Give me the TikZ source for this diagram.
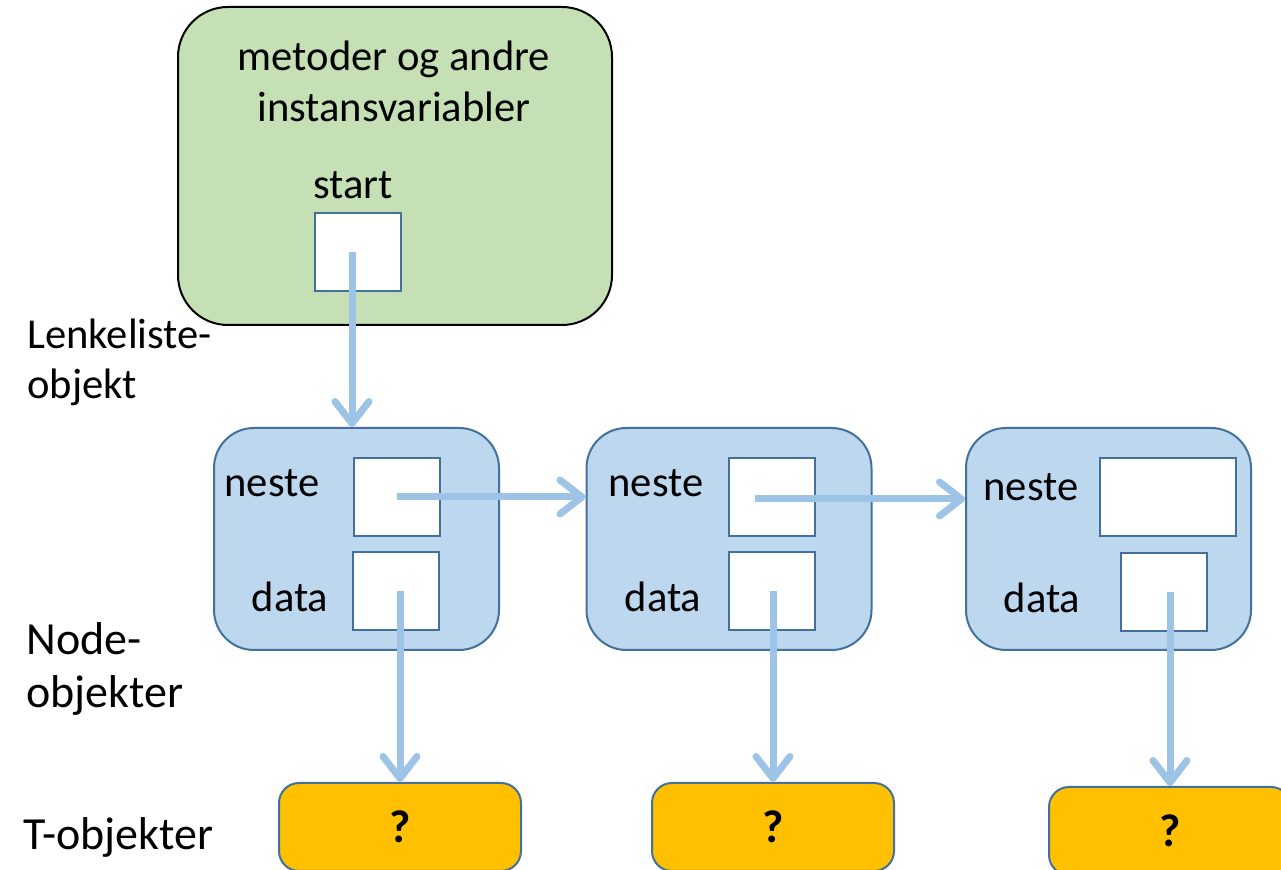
\documentclass[tikz,border=0pt]{standalone}
\usepackage{fontspec}
\setmainfont{Carlito}
\usetikzlibrary{arrows.meta}

\definecolor{listgreen}{HTML}{C5E0B4}
\definecolor{nodeblue}{HTML}{BDD7EE}
\definecolor{edgeblue}{HTML}{41719C}
\definecolor{arrowblue}{HTML}{9DC3E6}
\definecolor{tgold}{HTML}{FFC000}

\tikzset{
  listobj/.style={draw=black, line width=1pt, fill=listgreen, rounded corners=25pt,
    minimum width=217pt, minimum height=159pt},
  nodeobj/.style={draw=edgeblue, line width=1pt, fill=nodeblue, rounded corners=20pt,
    minimum width=142.5pt, minimum height=111pt},
  cell/.style={draw=edgeblue, line width=1pt, fill=white, minimum width=43pt, minimum height=39pt},
  tobj/.style={draw=edgeblue, line width=1pt, fill=tgold, rounded corners=10pt,
    minimum width=121pt, minimum height=44pt, font=\fontsize{23}{28}\selectfont\bfseries},
  lbl/.style={inner sep=0pt, anchor=base},
  sidelbl/.style={inner sep=0pt, anchor=base west},
  bigside/.style={sidelbl, font=\fontsize{23}{28}\selectfont},
  ref/.style={draw=arrowblue, line width=3.5pt, -{Straight Barb[length=11pt, width=17pt, round]}},
}

\begin{document}
\begin{tikzpicture}[x=0.5pt, y=-0.5pt, font=\fontsize{21.3}{26}\selectfont]
  \useasboundingbox (0,0) rectangle (1281,870);

  % lenkeliste-objektet
  \node[listobj] (liste) at (395,166) {};
  \node[lbl] (ltxt1) at (394,71) {metoder og andre};
  \node[lbl] (ltxt2) at (394,122) {instansvariabler};
  \node[lbl] (starttxt) at (353,199) {start};
  \node[cell] (startcell) at (358,252) {};

  % node-objektene
  \node[nodeobj] (n1) at (356.5,539) {};
  \node[nodeobj] (n2) at (729,539) {};
  \node[nodeobj] (n3) at (1108.5,539) {};
  \node[cell] (n1neste) at (397,497) {};
  \node[cell] (n1data) at (396,591) {};
  \node[cell] (n2neste) at (772,497) {};
  \node[cell] (n2data) at (772,591) {};
  \node[cell, minimum width=68pt] (n3neste) at (1168,497) {};
  \node[cell] (n3data) at (1164,592) {};
  \node[lbl] (n1nt) at (272,497) {neste};
  \node[lbl] (n1dt) at (290,612) {data};
  \node[lbl] (n2nt) at (656,497) {neste};
  \node[lbl] (n2dt) at (663,612) {data};
  \node[lbl] (n3nt) at (1031,501) {neste};
  \node[lbl] (n3dt) at (1042,613) {data};

  % T-objektene
  \node[tobj] (t1) at (400,827) {?};
  \node[tobj] (t2) at (773,827) {?};
  \node[tobj] (t3) at (1170,831) {?};

  % tekst til venstre
  \node[sidelbl] (lltxt1) at (27,349) {Lenkeliste-};
  \node[sidelbl] (lltxt2) at (27,399) {objekt};
  \node[bigside] (ntxt1) at (26,655) {Node-};
  \node[bigside] (ntxt2) at (26,708) {objekter};
  \node[bigside] (ttxt) at (23,850) {T-objekter};

  % pekere
  \coordinate (sp) at (352,252);
  \coordinate (p2) at (755,499);
  \draw[ref] (sp) -- (sp |- n1.north);
  \draw[ref] (n1neste.center) -- (n1neste.center -| n2.west);
  \draw[ref] (p2) -- (p2 -| n3.west);
  \draw[ref] (t1.north |- n1data.center) -- (t1.north);
  \draw[ref] (t2.north |- n2data.center) -- (t2.north);
  \draw[ref] (t3.north |- n3data.center) -- (t3.north);
\end{tikzpicture}
\end{document}
